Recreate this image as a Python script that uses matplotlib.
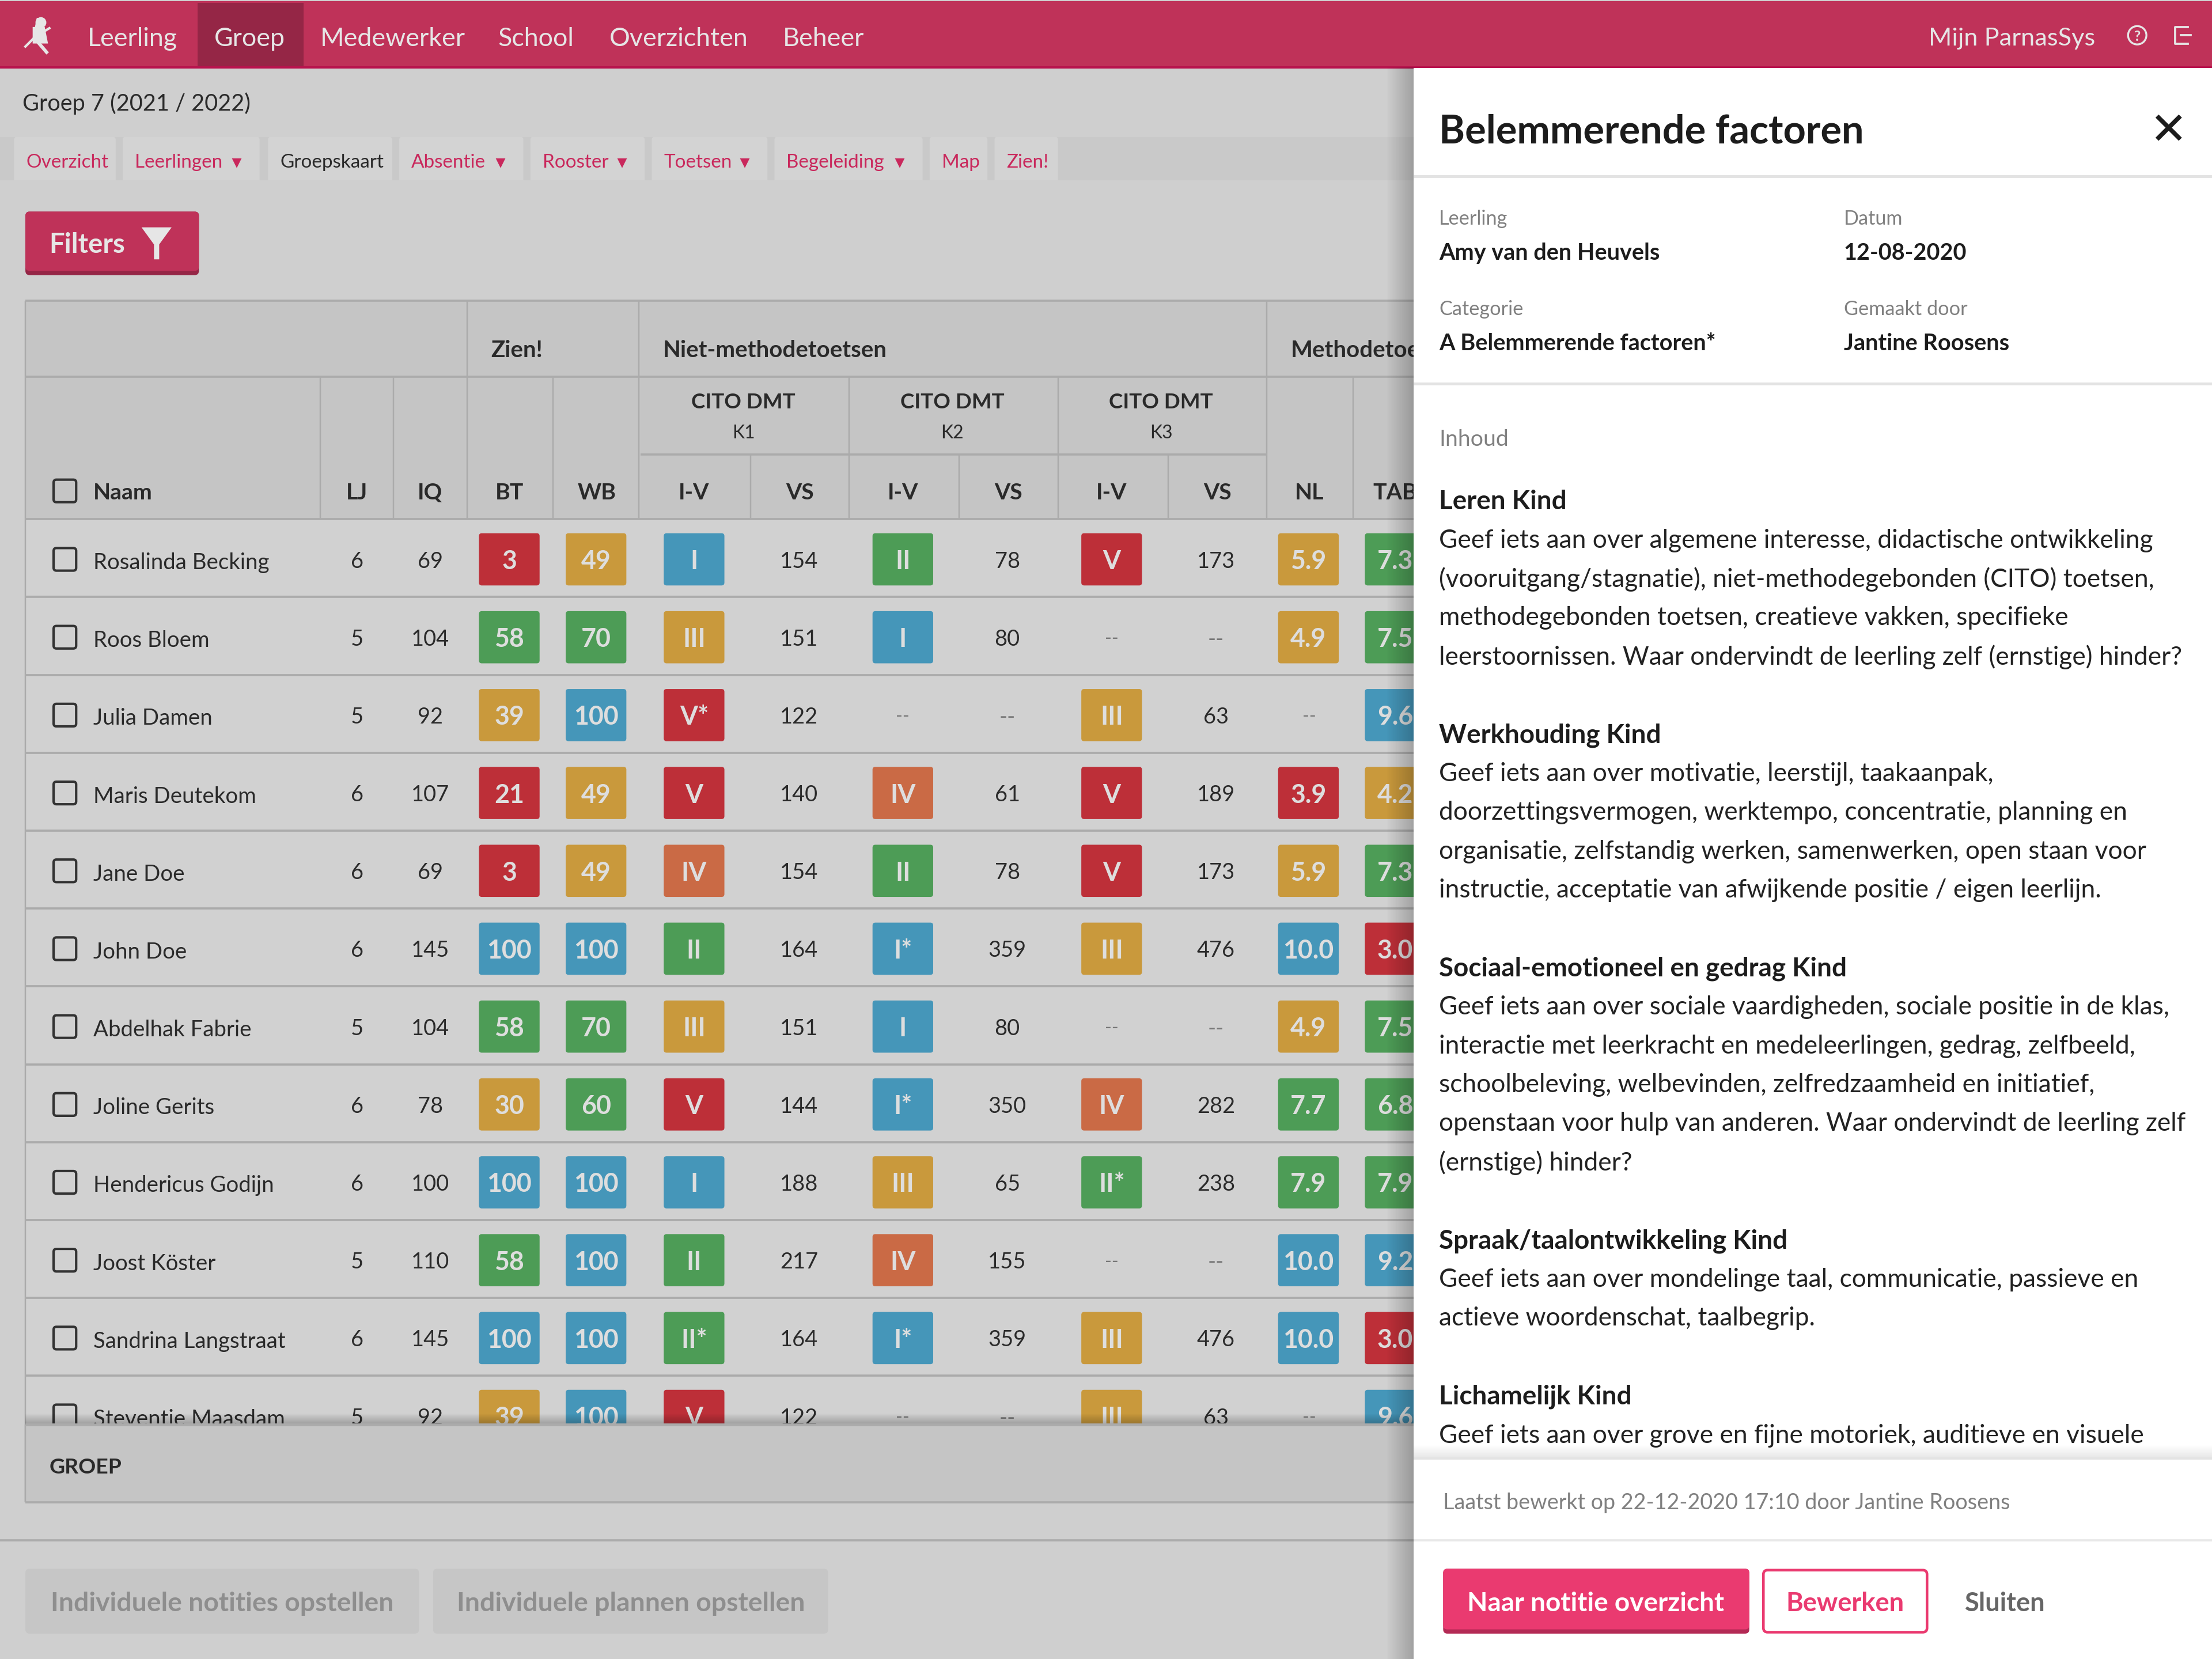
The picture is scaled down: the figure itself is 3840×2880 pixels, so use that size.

import numpy as np
import matplotlib
matplotlib.use('Agg')
from matplotlib import pyplot as plt
from matplotlib.patches import FancyBboxPatch, Rectangle, Polygon, Circle

plt.rcParams['font.family'] = ['Lato', 'DejaVu Sans']

# ----------- table content --------------------------------------------
names = ['Rosalinda Becking', 'Roos Bloem', 'Julia Damen', 'Maris Deutekom', 'Jane Doe', 'John Doe',
         'Abdelhak Fabrie', 'Joline Gerits', 'Hendericus Godijn', 'Joost Köster', 'Sandrina Langstraat',
         'Steventje Maasdam']
lj = [6, 5, 5, 6, 6, 6, 5, 6, 6, 5, 6, 5]
iq = [69, 104, 92, 107, 69, 145, 104, 78, 100, 110, 145, 92]
bt = [3, 58, 39, 21, 3, 100, 58, 30, 100, 58, 100, 39]
wb = [49, 70, 100, 49, 49, 100, 70, 60, 100, 100, 100, 100]
iv_k1 = ['I', 'III', 'V*', 'V', 'IV', 'II', 'III', 'V', 'I', 'II', 'II*', 'V']
vs_k1 = ['154', '151', '122', '140', '154', '164', '151', '144', '188', '217', '164', '122']
iv_k2 = ['II', 'I', '--', 'IV', 'II', 'I*', 'I', 'I*', 'III', 'IV', 'I*', '--']
vs_k2 = ['78', '80', '--', '61', '78', '359', '80', '350', '65', '155', '359', '--']
iv_k3 = ['V', '--', 'III', 'V', 'V', 'III', '--', 'IV', 'II*', '--', 'III', 'III']
vs_k3 = ['173', '--', '63', '189', '173', '476', '--', '282', '238', '--', '476', '63']
nl = ['5.9', '4.9', '--', '3.9', '5.9', '10.0', '4.9', '7.7', '7.9', '10.0', '10.0', '--']
tab = ['7.3', '7.5', '9.6', '4.2', '7.3', '3.0', '7.5', '6.8', '7.9', '9.2', '3.0', '9.6']

nav_labels = ['Leerling', 'Groep', 'Medewerker', 'School', 'Overzichten', 'Beheer']
tab_labels = ['Overzicht', 'Leerlingen', 'Groepskaart', 'Absentie', 'Rooster', 'Toetsen', 'Begeleiding', 'Map', 'Zien!']
tab_has_caret = [False, True, False, True, True, True, True, False, False]

panel_sections = [
    ('Leren Kind', ['Geef iets aan over algemene interesse, didactische ontwikkeling',
                    '(vooruitgang/stagnatie), niet-methodegebonden (CITO) toetsen,',
                    'methodegebonden toetsen, creatieve vakken, specifieke',
                    'leerstoornissen. Waar ondervindt de leerling zelf (ernstige) hinder?']),
    ('Werkhouding Kind', ['Geef iets aan over motivatie, leerstijl, taakaanpak,',
                          'doorzettingsvermogen, werktempo, concentratie, planning en',
                          'organisatie, zelfstandig werken, samenwerken, open staan voor',
                          'instructie, acceptatie van afwijkende positie / eigen leerlijn.']),
    ('Sociaal-emotioneel en gedrag Kind', ['Geef iets aan over sociale vaardigheden, sociale positie in de klas,',
                                           'interactie met leerkracht en medeleerlingen, gedrag, zelfbeeld,',
                                           'schoolbeleving, welbevinden, zelfredzaamheid en initiatief,',
                                           'openstaan voor hulp van anderen. Waar ondervindt de leerling zelf',
                                           '(ernstige) hinder?']),
    ('Spraak/taalontwikkeling Kind', ['Geef iets aan over mondelinge taal, communicatie, passieve en',
                                      'actieve woordenschat, taalbegrip.']),
    ('Lichamelijk Kind', ['Geef iets aan over grove en fijne motoriek, auditieve en visuele']),
]

# ----------- colours ---------------------------------------------------
RED = '#bd2f38'
YELLOW = '#c9993c'
BLUE = '#4596b9'
GREEN = '#4d9c56'
ORANGE = '#ca6a45'
BAR = '#bf3259'
BAR_DARK = '#952646'
PINK = '#c9285c'
LINE = '#ababab'
TXT = '#2a2a2a'

roman_colors = {'I': BLUE, 'II': GREEN, 'III': YELLOW, 'IV': ORANGE, 'V': RED}


def score_color(v):
    if v < 30:
        return RED
    if v < 58:
        return YELLOW
    if v < 100:
        return GREEN
    return BLUE


def grade_color(v):
    if v < 4:
        return RED
    if v < 6:
        return YELLOW
    if v < 9:
        return GREEN
    return BLUE


# text size is given in screen px of the 1568 wide layout
def fs(n):
    return n * 0.588


fig = plt.figure(figsize=(12.8, 9.6), dpi=300)
ax = fig.add_axes([0, 0, 1, 1])
ax.set_xlim(0, 1568)
ax.set_ylim(1176, 0)
ax.axis('off')


def rect(x0, y0, x1, y1, color, z=1, **kw):
    ax.add_patch(Rectangle((x0, y0), x1 - x0, y1 - y0, facecolor=color, edgecolor='none', zorder=z, **kw))


def rrect(x0, y0, x1, y1, color, z=3, r=3, **kw):
    kw.setdefault('edgecolor', 'none')
    ax.add_patch(FancyBboxPatch((x0 + r, y0 + r), x1 - x0 - 2 * r, y1 - y0 - 2 * r,
                                boxstyle='round,pad=%g,rounding_size=%g' % (r, r),
                                facecolor=color, zorder=z, **kw))


def label(x, y, s, size=16, color=TXT, weight='normal', ha='center', z=4):
    ax.text(x, y, s, fontsize=fs(size), color=color, fontweight=weight, ha=ha, va='center_baseline', zorder=z)


def hline(y, x0, x1, color=LINE, lw=1.0, z=2):
    ax.plot([x0, x1], [y, y], color=color, lw=lw * 0.59, zorder=z, solid_capstyle='butt')


def vline(x, y0, y1, color=LINE, lw=1.0, z=2):
    ax.plot([x, x], [y0, y1], color=color, lw=lw * 0.59, zorder=z, solid_capstyle='butt')


# page background
rect(0, 0, 1568, 1176, '#cfcfcf', z=0)

# ----------- top bar ---------------------------------------------------
rect(0, 1, 1568, 47, BAR)
rect(0, 47, 1568, 48.5, '#b8124d')
rect(140, 2, 215, 47, BAR_DARK, z=2)
nav_x = [62, 152, 227, 353, 432, 555]
for x, s in zip(nav_x, nav_labels):
    label(x, 26, s, 18.3, '#e6e6e6', ha='left')
label(1367, 26, 'Mijn ParnasSys', 17.7, '#e6e6e6', ha='left')
# logo, a small running figure
ax.plot([27, 25, 27, 33], [14, 24, 30, 37], color='#e6e6e6', lw=1.4, zorder=4)
ax.plot([18, 25, 35], [33, 26, 20], color='#e6e6e6', lw=1.0, zorder=4)
ax.add_patch(Circle((29, 16), 3, color='#e6e6e6', zorder=4))
ax.add_patch(Polygon([[24, 20], [31, 20], [33, 30], [24, 30]], color='#e6e6e6', zorder=4))
# help and logout icons
ax.add_patch(Circle((1515, 25), 6.5, facecolor='none', edgecolor='#e6e6e6', lw=0.8, zorder=4))
label(1515, 25, '?', 10, '#e6e6e6', 'bold')
ax.plot([1551, 1542, 1542, 1551], [19, 19, 31, 31], color='#e6e6e6', lw=0.9, zorder=4)
ax.plot([1546, 1553], [25, 25], color='#e6e6e6', lw=0.9, zorder=4)

# ----------- group title and tabs --------------------------------------
label(16, 72, 'Groep 7 (2021 / 2022)', 16.2, ha='left')
rect(0, 97, 1002, 128, '#c9c9c9', z=0.5)
tab_x0 = [10, 87, 190, 283, 376, 462, 549, 659, 705]
tab_x1 = [82, 184, 278, 371, 457, 544, 654, 700, 750]
for x0, x1, s, car in zip(tab_x0, tab_x1, tab_labels, tab_has_caret):
    rrect(x0, 97, x1, 132, '#d3d3d3', z=1, r=2)
    color = TXT if s == 'Groepskaart' else PINK
    label(x0 + 8.5, 114, s, 13.6, color, ha='left')
    if car:
        ax.plot([x1 - 16], [115], marker='v', ms=2.5, color=PINK, zorder=4)
rect(0, 128, 1002, 134, '#cfcfcf', z=1.5)

# filter button
rrect(18, 150, 141, 195, BAR_DARK, r=3)
rrect(18, 150, 141, 192, BAR, z=3.1, r=3)
label(35, 172, 'Filters', 19.3, '#e6e6e6', 'bold', ha='left')
ax.add_patch(Polygon([[102, 162], [120, 162], [112, 173], [112, 183], [110, 183], [110, 173]],
                     color='#e6e6e6', zorder=4))

# ----------- table header ----------------------------------------------
rect(18, 213, 1002, 368, '#c5c5c5')
hline(213, 18, 1002, lw=1.5)
hline(267, 18, 1002, lw=1.5)
hline(322, 454, 898, lw=1.5)
hline(368, 18, 1002, lw=1.5)
vline(18, 213, 1065)
for x in [331, 453, 898]:
    vline(x, 213, 368)
for x in [227, 279, 392, 602, 750, 959]:
    vline(x, 267, 368)
for x in [532, 680, 828]:
    vline(x, 322, 368)

label(348, 247, 'Zien!', 16.4, weight='bold', ha='left')
label(470, 247, 'Niet-methodetoetsen', 16.4, weight='bold', ha='left')
label(915, 247, 'Methodetoetsen', 16.4, weight='bold', ha='left')
k_centers = [527, 675, 823]
for x, k in zip(k_centers, ['K1', 'K2', 'K3']):
    label(x, 284, 'CITO DMT', 15, weight='bold')
    label(x, 306, k, 13)
label(66, 348, 'Naam', 16, weight='bold', ha='left')
rrect(38, 340, 54, 356, 'none', z=4, r=2, edgecolor='#333333', lw=1.0)
col_heads = ['LJ', 'IQ', 'BT', 'WB', 'I-V', 'VS', 'I-V', 'VS', 'I-V', 'VS', 'NL', 'TAB']
col_x = [253, 305, 361, 423, 492, 567, 640, 715, 788, 863, 928, 989]
for x, s in zip(col_x, col_heads):
    label(x, 348, s, 16, weight='bold')

# ----------- table rows ------------------------------------------------
rect(18, 368, 1002, 1010, '#d1d1d1')
row_h = 55.2
badge_w = 43
badge_h = 37


def badge(x, y, s, color):
    rrect(x - badge_w / 2, y - badge_h / 2, x + badge_w / 2, y + badge_h / 2, color, r=2)
    label(x, y, s, 18.3, '#dedede', 'bold')


for i, name in enumerate(names):
    y = 396.5 + row_h * i
    hline(368 + row_h * (i + 1), 18, 1002, lw=1.5)
    rrect(38, y - 8, 54, y + 8, 'none', z=3, r=2, edgecolor='#333333', lw=1.0)
    label(66, y + 1, name, 15.7, ha='left')
    label(col_x[0], y, str(lj[i]), 15.5)
    label(col_x[1], y, str(iq[i]), 15.5)
    badge(col_x[2], y, str(bt[i]), score_color(bt[i]))
    badge(col_x[3] - 0.5, y, str(wb[i]), score_color(wb[i]))
    for x, s in [(col_x[4], iv_k1[i]), (col_x[6], iv_k2[i]), (col_x[8], iv_k3[i])]:
        if s == '--':
            label(x, y, s, 13, '#777777')
        else:
            badge(x, y, s, roman_colors[s.rstrip('*')])
    for x, s in [(col_x[5] - 0.5, vs_k1[i]), (col_x[7] - 1, vs_k2[i]), (col_x[9] - 1, vs_k3[i])]:
        label(x, y, s, 15.5, '#777777' if s == '--' else TXT)
    if nl[i] == '--':
        label(col_x[10], y, '--', 13, '#777777')
    else:
        badge(col_x[10] - 0.5, y, nl[i], grade_color(float(nl[i])))
    badge(col_x[11], y, tab[i], grade_color(float(tab[i])))

# table footer covers the last row
rect(18, 1010, 1002, 1065, '#c5c5c5', z=5)
rect(0, 1065, 1002, 1176, '#cfcfcf', z=5)
hline(1010, 18, 1002, lw=2, z=6)
hline(1065, 18, 1002, lw=1.5, z=6)
vline(18, 1010, 1065, z=6)
label(35, 1039, 'GROEP', 15.3, weight='bold', ha='left', z=6)
fade = np.linspace(0, 0.25, 20).reshape(-1, 1, 1) * np.array([0, 0, 0, 1.0])
ax.imshow(fade, extent=(18, 1002, 1010, 1002), aspect='auto', zorder=4.5, interpolation='bilinear')

# disabled buttons below the table
hline(1092, 0, 1002, lw=1.5, z=6)
rrect(18, 1112, 297, 1158, '#c6c6c6', z=6, r=3)
rrect(307, 1112, 587, 1158, '#c6c6c6', z=6, r=3)
label(36, 1135, 'Individuele notities opstellen', 18.9, '#8e8e8e', 'bold', ha='left', z=7)
label(324, 1135, 'Individuele plannen opstellen', 18.9, '#8e8e8e', 'bold', ha='left', z=7)

# ----------- side panel ------------------------------------------------
rect(1002, 48, 1568, 1176, '#ffffff', z=10)
# panel shadow on the page
fade = np.linspace(0, 0.22, 24).reshape(1, -1, 1) * np.array([0, 0, 0, 1.0])
ax.imshow(fade, extent=(982, 1002, 1176, 48), aspect='auto', zorder=9, interpolation='bilinear')

label(1020, 91, 'Belemmerende factoren', 28, '#1c1c1c', 'bold', ha='left', z=11)
label(1537, 90, '✕', 32, '#1c1c1c', 'bold', z=11)
hline(125, 1002, 1568, '#e3e3e3', 2, z=11)
hline(272, 1002, 1568, '#e3e3e3', 2, z=11)

meta_labels = ['Leerling', 'Datum', 'Categorie', 'Gemaakt door']
meta_values = ['Amy van den Heuvels', '12-08-2020', 'A Belemmerende factoren*', 'Jantine Roosens']
meta_x = [1020, 1307, 1020, 1307]
meta_y = [154, 154, 218, 218]
for x, y, a, b in zip(meta_x, meta_y, meta_labels, meta_values):
    label(x, y, a, 14, '#808080', ha='left', z=11)
    label(x, y + 24, b, 16.2, '#1c1c1c', 'bold', ha='left', z=11)
label(1020, 310, 'Inhoud', 16, '#808080', ha='left', z=11)

y = 354
for head, lines in panel_sections:
    label(1020, y, head, 18.7, '#1c1c1c', 'bold', ha='left', z=11)
    for ln in lines:
        y += 27.5
        label(1020, y, ln, 18.05, '#222222', ha='left', z=11)
    y += 55.5

# panel footer
rect(1002, 1034, 1568, 1176, '#ffffff', z=12)
fade = np.linspace(0, 0.10, 16).reshape(-1, 1, 1) * np.array([0, 0, 0, 1.0])
ax.imshow(fade, extent=(1002, 1568, 1034, 1024), aspect='auto', zorder=11.5, interpolation='bilinear')
hline(1034, 1002, 1568, '#e3e3e3', 1.5, z=13)
hline(1092, 1002, 1568, '#e8e8e8', 1.5, z=13)
label(1023, 1064, 'Laatst bewerkt op 22-12-2020 17:10 door Jantine Roosens', 15.4, '#808080', ha='left', z=13)
rrect(1023, 1112, 1240, 1158, '#b32a55', z=13, r=3)
rrect(1023, 1112, 1240, 1155, '#ea3a70', z=13.1, r=3)
label(1131, 1135, 'Naar notitie overzicht', 18.8, '#ffffff', 'bold', z=14)
rrect(1250, 1113, 1366, 1157, '#ffffff', z=13, r=3, edgecolor='#ea3a70', lw=1.1)
label(1308, 1135, 'Bewerken', 18.5, '#ea3a70', 'bold', z=14)
label(1393, 1135, 'Sluiten', 18.5, '#666666', 'bold', ha='left', z=14)

ax.set_xlim(0, 1568)
ax.set_ylim(1176, 0)
fig.savefig('out.png', dpi=300)
plt.close()
